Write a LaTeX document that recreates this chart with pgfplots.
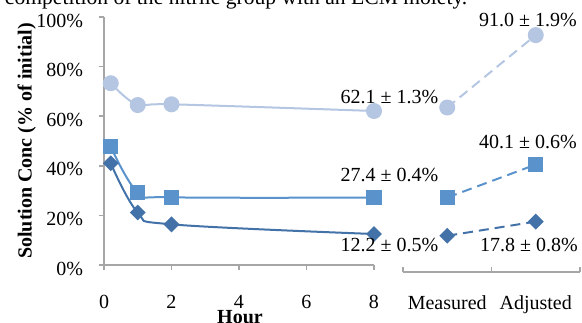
\documentclass[border=0pt]{standalone}
\usepackage{fontspec}
\setmainfont{Liberation Serif}
\usepackage{pgfplots}
\pgfplotsset{compat=1.18}
\definecolor{cA}{HTML}{B4C6E2}
\definecolor{cB}{HTML}{5A92CC}
\definecolor{cC}{HTML}{4272A8}
\definecolor{axg}{HTML}{A6A6A6}
\begin{document}
\begin{tikzpicture}[x=0.75pt,y=-0.75pt,font=\fontsize{15}{18}\selectfont]
\begin{axis}[
  at={(78pt,-198.75pt)}, anchor=south west, scale only axis,
  width=202.5pt, height=186pt,
  xmin=0, xmax=8, ymin=0, ymax=100,
  axis x line=bottom, axis y line=left,
  axis line style={-,axg,line width=1.1pt},
  tick style={axg,line width=1.1pt},
  tick align=outside, major tick length=4pt,
  xtick={0,2,4,6,8}, xticklabels={0,2,4,6,8},
  ytick={0,20,40,60,80,100},
  yticklabels={0\%,20\%,40\%,60\%,80\%,100\%},
  xticklabel style={anchor=base, yshift=-28.3pt},
  yticklabel style={anchor=base east, xshift=-8.25pt, yshift=-7.5pt},
  clip=false,
]
\addplot[cA, line width=1.5pt, smooth, tension=0.6, mark=*, mark size=5.25pt]
  coordinates {(0.2,73.3)(1,64.5)(2,64.8)(8,62.1)};
\addplot[cB, line width=1.5pt, smooth, tension=0.6, mark=square*, mark size=4.9pt]
  coordinates {(0.2,47.7)(1,29.3)(2,27.3)(8,27.2)};
\addplot[cC, line width=1.5pt, smooth, tension=0.6, mark=square*, mark size=3.45pt, mark options={rotate=45}]
  coordinates {(0.2,41.0)(1,21.2)(2,16.4)(8,12.5)};
\end{axis}
\begin{axis}[
  at={(302.25pt,-204pt)}, anchor=south west, scale only axis,
  width=132.75pt, height=191.25pt,
  xmin=0, xmax=2, ymin=-2.82, ymax=100,
  axis x line=bottom, axis y line=none,
  axis line style={-,axg,line width=1.1pt},
  tick style={axg,line width=1.1pt},
  tick align=inside, major tick length=3.75pt,
  xtick={0,1,2}, xticklabels={,,},
  ytick=\empty,
  extra x ticks={0.5,1.5},
  extra x tick labels={Measured,Adjusted},
  extra x tick style={major tick length=0pt, xticklabel style={anchor=base, yshift=-27.75pt}},
  clip=false,
]
\addplot[cA, line width=1.5pt, dash pattern=on 7.5pt off 4.5pt, mark=*, mark size=5.25pt, mark options={solid}]
  coordinates {(0.5,63.5)(1.5,92.7)};
\addplot[cB, line width=1.5pt, dash pattern=on 7.5pt off 4.5pt, mark=square*, mark size=4.9pt, mark options={solid}]
  coordinates {(0.5,27.2)(1.5,40.5)};
\addplot[cC, line width=1.5pt, dash pattern=on 7.5pt off 4.5pt, mark=square*, mark size=3.45pt, mark options={solid,rotate=45}]
  coordinates {(0.5,11.8)(1.5,17.5)};
\end{axis}
\node[anchor=base] at (389.5,103) {62.1 ± 1.3\%};
\node[anchor=base] at (389.5,181.7) {27.4 ± 0.4\%};
\node[anchor=base] at (389.5,251.7) {12.2 ± 0.5\%};
\node[anchor=base] at (528,26.7) {91.0 ± 1.9\%};
\node[anchor=base] at (528,148.3) {40.1 ± 0.6\%};
\node[anchor=base] at (529,251.7) {17.8 ± 0.8\%};
\node[anchor=base, rotate=90, font=\fontsize{15}{18}\selectfont\bfseries] at (31.5,141) {Solution Conc (\% of initial)};
\node[anchor=base, font=\fontsize{15}{18}\selectfont\bfseries] at (240,323) {Hour};
\node[anchor=base east, font=\fontsize{16.2}{19}\selectfont] at (472,4) {competition of the nitrile group with an ECM moiety.};
\pgfresetboundingbox
\useasboundingbox (0,0) rectangle (582,322);
\end{tikzpicture}
\end{document}
